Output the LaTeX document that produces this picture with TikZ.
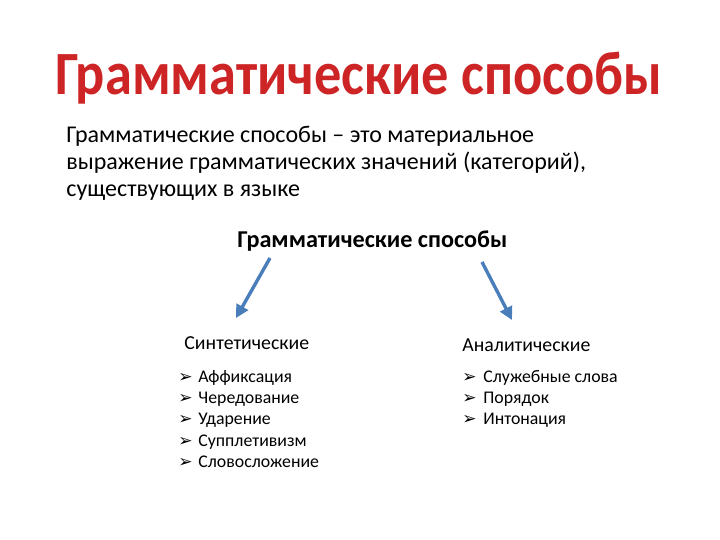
\documentclass[tikz,border=0pt]{standalone}
\usepackage{fontspec}
\setmainfont{Carlito}
\newfontfamily\symfont{DejaVu Sans}
\usetikzlibrary{arrows.meta}
\definecolor{titlered}{RGB}{205,36,38}
\definecolor{arrowblue}{RGB}{74,126,187}
\tikzset{
  titletext/.style={anchor=base west,inner sep=0pt,font=\fontsize{27.2}{30}\selectfont\bfseries,text=titlered,yscale=1.13},
  bodytext/.style={anchor=north west,inner sep=0pt,font=\fontsize{12}{13.5}\selectfont,align=left},
  subhead/.style={anchor=base west,inner sep=0pt,font=\fontsize{12.1}{14}\selectfont\bfseries},
  colhead/.style={anchor=base west,inner sep=0pt,font=\fontsize{9.9}{12}\selectfont},
  item/.style={anchor=base west,inner sep=0pt,font=\fontsize{8.9}{10}\selectfont},
  bul/.style={anchor=base west,inner sep=0pt,font=\fontsize{8.5}{10}\symfont},
  conn/.style={draw=arrowblue,line width=1.7pt,-{Triangle[length=6.5pt,width=6.5pt]}}
}
\begin{document}
\begin{tikzpicture}[x=0.5pt,y=-0.5pt]
\useasboundingbox (0,0) rectangle (720,540);
\node[titletext] (title) at (55,95) {Грамматические способы};
\node[bodytext] (def) at (66,126) {Грамматические способы – это материальное\\выражение грамматических значений (категорий),\\существующих в языке};
\node[subhead] (sub) at (237,248) {Грамматические способы};
\coordinate (ls) at (270,258);
\coordinate (le) at (236,318);
\coordinate (rs) at (482,262);
\coordinate (re) at (512,320);
\draw[conn] (ls) -- (le);
\draw[conn] (rs) -- (re);
\node[colhead] (syn) at (184,350) {Синтетические};
\node[colhead] (ana) at (462,352) {Аналитические};
\foreach \t [count=\i] in {Аффиксация,Чередование,Ударение,Супплетивизм,Словосложение}{
  \node[bul] (sb\i) at (178,{361+21.3*\i}) {➢};
  \node[item] (si\i) at (198,{361+21.3*\i}) {\t};
}
\foreach \t [count=\i] in {Служебные слова,Порядок,Интонация}{
  \node[bul] (ab\i) at (462,{361+21.3*\i}) {➢};
  \node[item] (ai\i) at (483,{361+21.3*\i}) {\t};
}
\end{tikzpicture}
\end{document}
